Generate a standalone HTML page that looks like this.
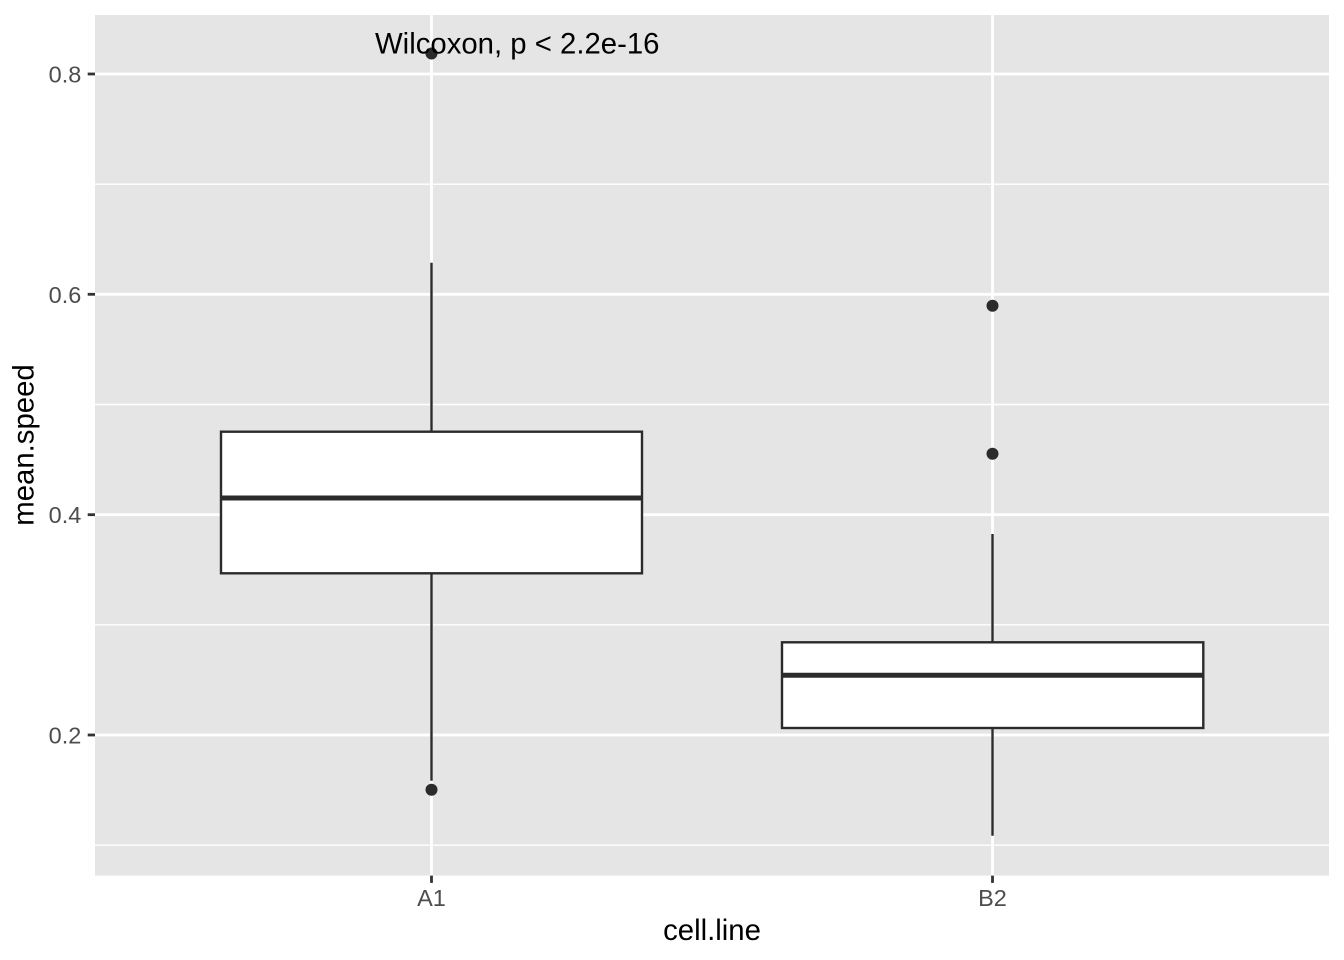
<!DOCTYPE html>
<html>
<head>
<meta charset="utf-8">
<style>
html,body{margin:0;padding:0;background:#fff;}
svg{display:block;}
text{font-family:"Liberation Sans",Arial,sans-serif;}
</style>
</head>
<body>
<svg width="1344" height="960" viewBox="0 0 1344 960" xmlns="http://www.w3.org/2000/svg">
<rect x="0" y="0" width="1344" height="960" fill="#ffffff"/>
<!-- panel -->
<rect x="95" y="15" width="1234" height="860.6" fill="#E5E5E5"/>
<!-- minor grid -->
<g stroke="#ffffff" stroke-width="1.4">
<line x1="95" x2="1329" y1="184.2" y2="184.2"/>
<line x1="95" x2="1329" y1="404.5" y2="404.5"/>
<line x1="95" x2="1329" y1="624.8" y2="624.8"/>
<line x1="95" x2="1329" y1="845.2" y2="845.2"/>
</g>
<!-- major grid -->
<g stroke="#ffffff" stroke-width="2.8">
<line x1="95" x2="1329" y1="74" y2="74"/>
<line x1="95" x2="1329" y1="294.3" y2="294.3"/>
<line x1="95" x2="1329" y1="514.7" y2="514.7"/>
<line x1="95" x2="1329" y1="735" y2="735"/>
<line y1="15" y2="875.6" x1="431.5" x2="431.5"/>
<line y1="15" y2="875.6" x1="992.5" x2="992.5"/>
</g>
<!-- A1 boxplot -->
<g stroke="#2B2B2B" fill="none">
<line x1="431.5" x2="431.5" y1="262.7" y2="431.7" stroke-width="2.4"/>
<line x1="431.5" x2="431.5" y1="573.3" y2="780.7" stroke-width="2.4"/>
<rect x="221" y="431.7" width="421" height="141.6" fill="#ffffff" stroke-width="2.4"/>
<line x1="221" x2="642" y1="498" y2="498" stroke-width="5"/>
</g>
<circle cx="431.5" cy="53.5" r="6" fill="#2B2B2B"/>
<circle cx="431.5" cy="789.7" r="6" fill="#2B2B2B"/>
<!-- B2 boxplot -->
<g stroke="#2B2B2B" fill="none">
<line x1="992.5" x2="992.5" y1="534" y2="642.3" stroke-width="2.4"/>
<line x1="992.5" x2="992.5" y1="728" y2="835.7" stroke-width="2.4"/>
<rect x="782" y="642.3" width="421.3" height="85.7" fill="#ffffff" stroke-width="2.4"/>
<line x1="782" x2="1203.3" y1="675.3" y2="675.3" stroke-width="5"/>
</g>
<circle cx="992.5" cy="305.7" r="6" fill="#2B2B2B"/>
<circle cx="992.5" cy="453.7" r="6" fill="#2B2B2B"/>
<!-- annotation -->
<text x="375" y="53.3" font-size="29.33" fill="#000000">Wilcoxon, p &lt; 2.2e-16</text>
<!-- ticks -->
<g stroke="#333333" stroke-width="2.8">
<line x1="87.7" x2="95" y1="74" y2="74"/>
<line x1="87.7" x2="95" y1="294.3" y2="294.3"/>
<line x1="87.7" x2="95" y1="514.7" y2="514.7"/>
<line x1="87.7" x2="95" y1="735" y2="735"/>
<line y1="875.6" y2="882.9" x1="431.5" x2="431.5"/>
<line y1="875.6" y2="882.9" x1="992.5" x2="992.5"/>
</g>
<g font-size="23.47" fill="#4D4D4D" text-anchor="end">
<text x="81.3" y="82.5">0.8</text>
<text x="81.3" y="302.8">0.6</text>
<text x="81.3" y="523.2">0.4</text>
<text x="81.3" y="743.5">0.2</text>
</g>
<g font-size="23.47" fill="#4D4D4D" text-anchor="middle">
<text x="431.5" y="906">A1</text>
<text x="992.5" y="906">B2</text>
</g>
<!-- axis titles -->
<text x="712" y="940" font-size="29.33" fill="#000000" text-anchor="middle">cell.line</text>
<text transform="translate(33.5,445) rotate(-90)" x="0" y="0" font-size="29.33" fill="#000000" text-anchor="middle">mean.speed</text>
</svg>
</body>
</html>
